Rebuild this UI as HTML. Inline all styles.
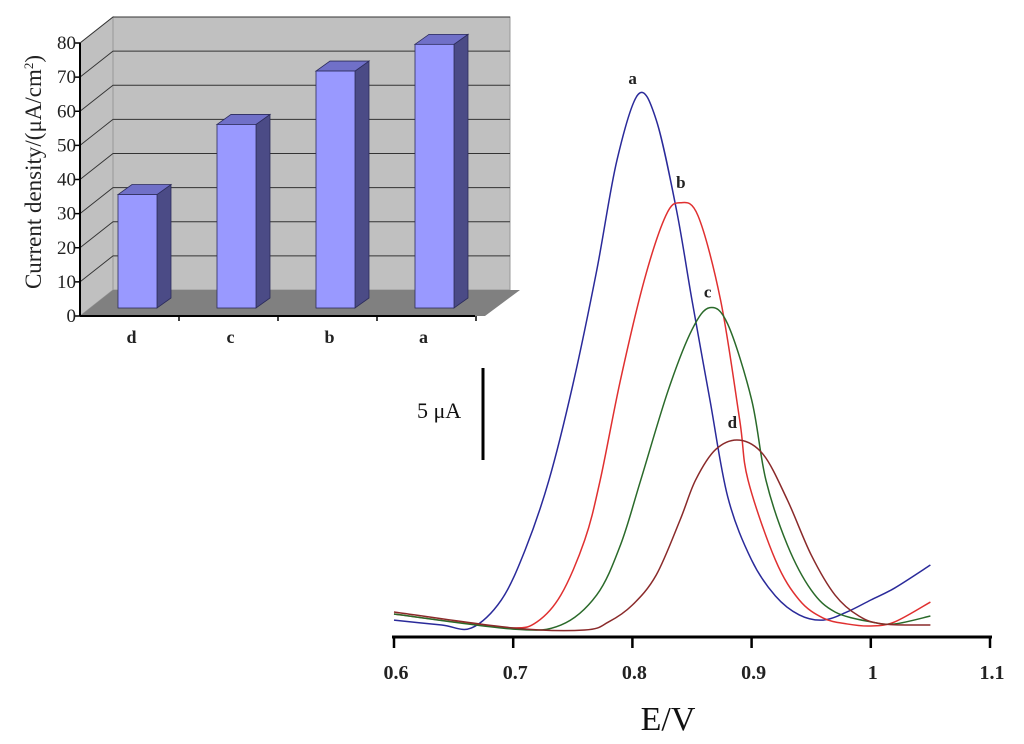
<!DOCTYPE html>
<html><head><meta charset="utf-8"><style>
html,body{margin:0;padding:0;background:#fff;width:1024px;height:744px;overflow:hidden}
svg text{font-family:"Liberation Serif",serif}
</style></head><body>
<svg id="chart" width="1024" height="744" viewBox="0 0 1024 744" xmlns="http://www.w3.org/2000/svg">
<g id="inset"></g>
<g id="main"></g>
</svg>
<script>
// ---- inset bar chart data ----
const barCats = ["d","c","b","a"];
const barVals = [34, 55, 71, 79];
const barTicks = [0,10,20,30,40,50,60,70,80];
// ---- main chart data (E in V, current in µA) ----
const xTicks = [0.6,0.7,0.8,0.9,1,1.1];
const xTickLabels = ["0.6","0.7","0.8","0.9","1","1.1"];
const seriesNames = ["a","b","c","d"];
const eA = [0.6,0.64,0.665,0.69,0.71,0.73,0.75,0.77,0.787,0.805,0.82,0.837,0.85,0.865,0.88,0.9,0.92,0.94,0.96,0.98,1.0,1.02,1.05];
const iA = [0.92,0.65,0.49,2.01,4.73,8.53,13.7,19.9,25.9,29.5,28.1,23.2,18.3,12.9,7.61,4.18,2.23,1.2,0.92,1.36,2.01,2.66,3.91];
const eB = [0.6,0.65,0.7,0.72,0.74,0.76,0.773,0.79,0.81,0.828,0.84,0.855,0.874,0.89,0.897,0.92,0.94,0.96,0.98,1.0,1.02,1.05];
const iB = [1.25,0.82,0.49,0.82,2.28,5.27,8.53,13.97,19.4,22.9,23.6,22.9,18.3,11.8,8.53,4.18,2.01,1.03,0.71,0.6,0.82,1.9];
const eC = [0.6,0.7,0.74,0.77,0.79,0.807,0.83,0.85,0.865,0.88,0.9,0.912,0.93,0.95,0.97,1.0,1.02,1.05];
const iC = [1.25,0.43,0.65,2.28,5.0,8.53,13.4,16.7,17.9,17.0,12.9,8.53,5.0,2.55,1.36,0.82,0.71,1.14];
const eD = [0.6,0.7,0.76,0.78,0.8,0.82,0.84,0.853,0.87,0.89,0.91,0.93,0.95,0.97,0.99,1.01,1.05];
const iD = [1.36,0.49,0.38,0.82,1.74,3.37,6.36,8.53,10.2,10.7,9.9,7.45,4.46,2.28,1.14,0.71,0.65];

const NS="http://www.w3.org/2000/svg";
function mk(tag,attrs,parent,text){const e=document.createElementNS(NS,tag);for(const k in attrs)e.setAttribute(k,attrs[k]);if(text!==undefined)e.textContent=text;parent.appendChild(e);return e;}

// ---- inset ----
const inset=document.getElementById('inset');
const ix0=80, ibase=316, iback=290, idx=33, idy=-26, iwallR=510;
const iy=v=>ibase-(v/80)*273;
const iyb=v=>iback-(v/80)*273;
let e;
e=mk('polygon',{points:`${ix0},${iy(80)} ${ix0+idx},${iyb(80)} ${ix0+idx},${iback} ${ix0},${ibase}`,fill:'#c0c0c0',stroke:'#999'},inset);

e=mk('rect',{x:ix0+idx,y:iyb(80),width:iwallR-ix0-idx,height:iback-iyb(80),fill:'#c0c0c0',stroke:'#999'},inset);

e=mk('polygon',{points:`${ix0},${ibase} ${ix0+idx},${iback} ${iwallR+10},${iback} ${iwallR-25},${ibase}`,fill:'#808080'},inset);

barTicks.forEach(t=>{
  if(t>0){
    e=mk('polyline',{points:`${ix0},${iy(t)} ${ix0+idx},${iyb(t)} ${iwallR},${iyb(t)}`,fill:'none',stroke:'#333','stroke-width':0.9},inset);
    
  }
  e=mk('line',{x1:ix0-5,y1:iy(t),x2:ix0,y2:iy(t),stroke:'#000','stroke-width':1.5},inset);
  
  e=mk('text',{x:ix0-4,y:iy(t)+6,'text-anchor':'end','font-size':19,fill:'#222'},inset,String(t));
  
});
e=mk('line',{x1:ix0,y1:iy(80),x2:ix0,y2:ibase,stroke:'#000','stroke-width':2},inset);

e=mk('line',{x1:ix0,y1:ibase,x2:475,y2:ibase,stroke:'#000','stroke-width':2},inset);

const bw=39, bdx=14, bdy=-10, bbot=308;
const byv=v=>bbot-(v/80)*267;
barCats.forEach((c,i)=>{
  const x=118+i*99, top=byv(barVals[i]);
  const g=mk('g',{},inset);
  
  mk('polygon',{points:`${x+bw},${top} ${x+bw+bdx},${top+bdy} ${x+bw+bdx},${bbot+bdy} ${x+bw},${bbot}`,fill:'#4b4b86',stroke:'#2c2c5a','stroke-width':0.8},g);
  mk('polygon',{points:`${x},${top} ${x+bdx},${top+bdy} ${x+bw+bdx},${top+bdy} ${x+bw},${top}`,fill:'#7070c8',stroke:'#2c2c5a','stroke-width':0.8},g);
  mk('rect',{x:x,y:top,width:bw,height:bbot-top,fill:'#9999ff',stroke:'#2c2c5a','stroke-width':0.8},g);
  e=mk('line',{x1:ix0+(i+1)*99,y1:ibase,x2:ix0+(i+1)*99,y2:ibase+5,stroke:'#000','stroke-width':1.5},inset);
  
  e=mk('text',{x:x+bw/2-6+(i===3?-5:0),y:343,'text-anchor':'middle','font-size':18,'font-weight':'bold',fill:'#222'},inset,c);
  
});
e=mk('text',{x:0,y:0,transform:'translate(41,172) rotate(-90)','text-anchor':'middle','font-size':23,fill:'#222'},inset);
e.innerHTML='Current density/(μA/cm<tspan dy="-8" font-size="13">2</tspan><tspan dy="8">)</tspan>';


// ---- main chart ----
const main=document.getElementById('main');
const X=v=>394+(v-0.6)*1192;
const Y=v=>637-v*18.4;
e=mk('line',{x1:392,y1:637,x2:992,y2:637,stroke:'#000','stroke-width':3},main);

xTicks.forEach((t,i)=>{
  e=mk('line',{x1:X(t),y1:636,x2:X(t),y2:648,stroke:'#000','stroke-width':2.5},main);
  
  e=mk('text',{x:X(t)+2,y:679,'text-anchor':'middle','font-size':20,'font-weight':'bold',fill:'#222'},main,xTickLabels[i]);
  
});
e=mk('text',{x:668,y:730,'text-anchor':'middle','font-size':34,fill:'#111'},main,'E/V');

e=mk('line',{x1:483,y1:368,x2:483,y2:460,stroke:'#000','stroke-width':3},main);

e=mk('text',{x:417,y:418,'font-size':22,fill:'#111'},main,'5 μA');


function path(xs,ys){
  const p=xs.map((x,i)=>[X(x),Y(ys[i])]);
  let d=`M${p[0][0]},${p[0][1]}`;
  for(let i=0;i<p.length-1;i++){
    const p0=p[Math.max(0,i-1)],p1=p[i],p2=p[i+1],p3=p[Math.min(p.length-1,i+2)];
    const c1=[p1[0]+(p2[0]-p0[0])/6,p1[1]+(p2[1]-p0[1])/6];
    const c2=[p2[0]-(p3[0]-p1[0])/6,p2[1]-(p3[1]-p1[1])/6];
    d+=` C${c1[0]},${c1[1]} ${c2[0]},${c2[1]} ${p2[0]},${p2[1]}`;
  }
  return d;
}
const allE=[eA,eB,eC,eD], allI=[iA,iB,iC,iD];
const colors=['#2a2a9a','#e03030','#2a6a2a','#8a2a2a'];
allE.forEach((es,k)=>{
  e=mk('path',{d:path(es,allI[k]),fill:'none',stroke:colors[k],'stroke-width':1.5},main);
  
  const m=allI[k].indexOf(Math.max(...allI[k]));
  e=mk('text',{x:X(es[m])-6+(k===1?2:0)+(k===0?-4:0)+(k===3?-6:0),y:Y(allI[k][m])-10-(k===1?5:0)+(k===3?-2:0),'font-size':17,'font-weight':'bold',fill:'#222'},main,seriesNames[k]);
  
});
</script>
</body></html>
